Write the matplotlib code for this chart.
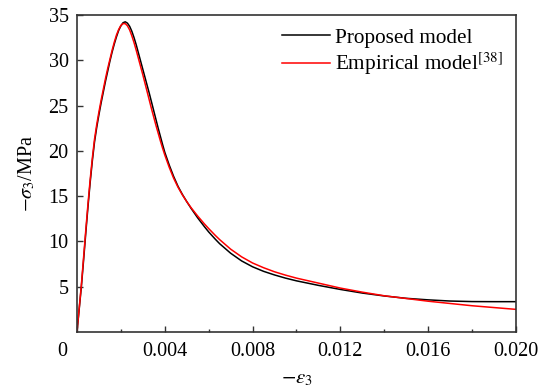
import matplotlib
matplotlib.use('Agg')
import matplotlib.pyplot as plt
from matplotlib.ticker import MultipleLocator, FuncFormatter

plt.rcParams['font.family'] = ['Liberation Serif', 'DejaVu Serif']
plt.rcParams['mathtext.fontset'] = 'stix'

# 应变 (strain) sample points
strain = [0, 0.0001, 0.0002, 0.0003, 0.0004, 0.0005, 0.0006, 0.0007, 0.0008, 0.0009,
          0.0010, 0.0011, 0.0012, 0.0013, 0.0014, 0.0015, 0.0016, 0.0017, 0.0018, 0.0019,
          0.0020, 0.0021, 0.0022, 0.0023, 0.0024, 0.0025, 0.0026, 0.0027, 0.0028, 0.0029,
          0.0030, 0.0031, 0.0032, 0.0033, 0.0034, 0.0035, 0.0036, 0.0037, 0.0038, 0.0039,
          0.0040, 0.0042, 0.0044, 0.0046, 0.0048, 0.0050, 0.0052, 0.0055, 0.0058, 0.0060,
          0.0063, 0.0065, 0.0070, 0.0075, 0.0080, 0.0085, 0.0090, 0.0095, 0.0100, 0.0110,
          0.0120, 0.0130, 0.0140, 0.0150, 0.0160, 0.0170, 0.0180, 0.0190, 0.0200]

# Proposed model stress
stress_proposed = [0, 2.5, 5.0, 7.9, 10.9, 13.8, 16.5, 18.9, 21.0, 22.6,
                   24.0, 25.3, 26.5, 27.7, 28.8, 29.9, 30.9, 31.8, 32.6, 33.3,
                   33.8, 34.15, 34.25, 34.1, 33.75, 33.2, 32.5, 31.7, 30.8, 29.9,
                   29.0, 28.1, 27.2, 26.3, 25.35, 24.4, 23.45, 22.5, 21.6, 20.7,
                   19.85, 18.45, 17.2, 16.1, 15.2, 14.4, 13.65, 12.6, 11.65, 11.05,
                   10.25, 9.75, 8.7, 7.85, 7.2, 6.7, 6.3, 5.95, 5.65, 5.15,
                   4.7, 4.3, 3.98, 3.72, 3.55, 3.42, 3.36, 3.35, 3.35]

# Empirical model stress
stress_empirical = [0, 2.6, 5.2, 8.2, 11.2, 14.1, 16.8, 19.2, 21.3, 22.9,
                    24.3, 25.6, 26.8, 28.0, 29.1, 30.1, 31.1, 32.0, 32.8, 33.4,
                    33.85, 34.05, 34.05, 33.8, 33.35, 32.7, 31.95, 31.1, 30.2, 29.3,
                    28.4, 27.45, 26.5, 25.55, 24.6, 23.7, 22.8, 21.95, 21.1, 20.3,
                    19.55, 18.2, 17.0, 16.0, 15.15, 14.4, 13.72, 12.8, 11.95, 11.42,
                    10.67, 10.2, 9.15, 8.3, 7.62, 7.1, 6.65, 6.28, 5.95, 5.4,
                    4.85, 4.4, 4.0, 3.7, 3.4, 3.15, 2.9, 2.7, 2.5]

fig = plt.figure(figsize=(5.44, 3.89), dpi=100)
ax = fig.add_axes([0.1415, 0.1465, 0.807, 0.8149])

ax.plot(strain, stress_proposed, color='black', lw=1.1, label='Proposed model')
ax.plot(strain, stress_empirical, color='#ff0000', lw=1.1, label='Empirical model$^{[38]}$')

ax.set_xlim(0, 0.020)
ax.set_ylim(0, 35)
ax.xaxis.set_major_locator(MultipleLocator(0.004))
ax.xaxis.set_minor_locator(MultipleLocator(0.002))
ax.set_yticks([5, 10, 15, 20, 25, 30, 35])
# origin label is drawn separately, a bit left of the corner
ax.xaxis.set_major_formatter(FuncFormatter(lambda v, p: '' if abs(v) < 1e-12 else '%.3f' % v))
ax.tick_params(which='both', direction='in', labelsize=14.5, width=1.0, color='#333333')
ax.tick_params(which='major', length=4.5)
ax.tick_params(which='minor', length=2.3)
ax.tick_params(axis='x', pad=7)
ax.tick_params(axis='y', pad=6)
for s in ax.spines.values():
    s.set_linewidth(1.2)
    s.set_color('#333333')

ax.annotate('0', xy=(0, 0), xycoords='axes fraction', xytext=(-10.5, -7),
            textcoords='offset points', ha='center', va='top', fontsize=14.5)

ax.set_xlabel(r'$-\varepsilon_3$', fontsize=15, labelpad=6)
ax.set_ylabel(r'$-\sigma_3$/MPa', fontsize=14.5, labelpad=8)

ax.legend(loc='upper right', frameon=False, fontsize=15.3, handlelength=2.25,
          handletextpad=0.25, labelspacing=0.15, borderaxespad=0.2)

fig.savefig('out.png', dpi=100)
